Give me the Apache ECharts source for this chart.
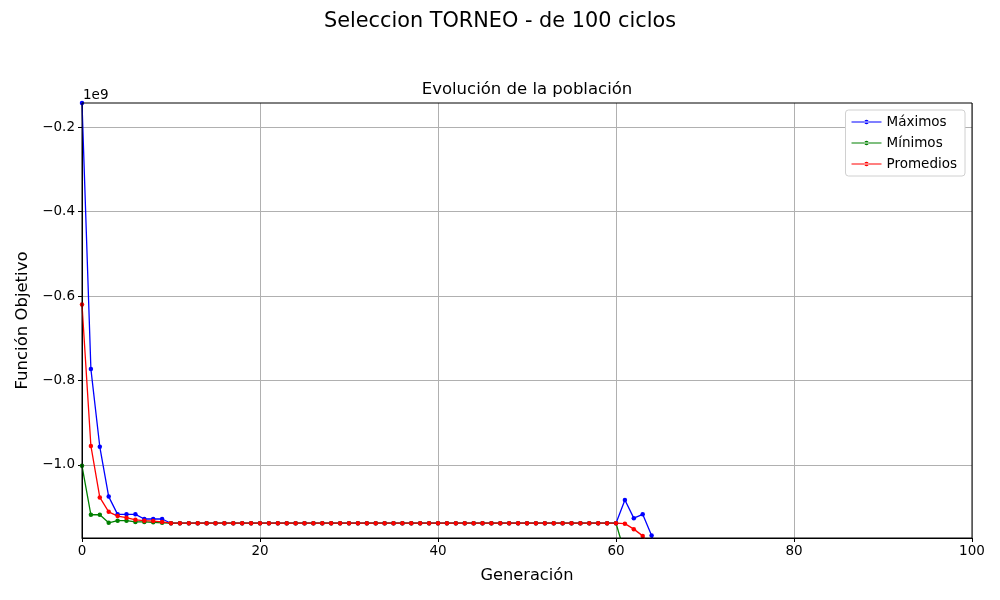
<!DOCTYPE html>
<html>
<head>
<meta charset="utf-8">
<script src="https://cdn.jsdelivr.net/npm/echarts@6/dist/echarts.min.js"></script>
<style>
html,body{margin:0;padding:0;background:#fff;}
#c{width:1000px;height:600px;}
</style>
</head>
<body>
<div id="c"></div>
<script>
// values in units of 1e9
var generations = [0,1,2,3,4,5,6,7,8,9,10,11,12,13,14,15,16,17,18,19,20,21,22,23,24,25,26,27,28,29,30,31,32,33,34,35,36,37,38,39,40,41,42,43,44,45,46,47,48,49,50,51,52,53,54,55,56,57,58,59,60,61,62,63,64,65];
var maximos = [-0.143,-0.773,-0.957,-1.075,-1.117,-1.117,-1.117,-1.128,-1.128,-1.128,
  -1.138,-1.138,-1.138,-1.138,-1.138,-1.138,-1.138,-1.138,-1.138,-1.138,
  -1.138,-1.138,-1.138,-1.138,-1.138,-1.138,-1.138,-1.138,-1.138,-1.138,
  -1.138,-1.138,-1.138,-1.138,-1.138,-1.138,-1.138,-1.138,-1.138,-1.138,
  -1.138,-1.138,-1.138,-1.138,-1.138,-1.138,-1.138,-1.138,-1.138,-1.138,
  -1.138,-1.138,-1.138,-1.138,-1.138,-1.138,-1.138,-1.138,-1.138,-1.138,
  -1.138,-1.083,-1.126,-1.117,-1.167,-1.25];
var minimos = [-1.002,-1.118,-1.118,-1.137,-1.132,-1.132,-1.135,-1.135,-1.136,-1.137,
  -1.138,-1.138,-1.138,-1.138,-1.138,-1.138,-1.138,-1.138,-1.138,-1.138,
  -1.138,-1.138,-1.138,-1.138,-1.138,-1.138,-1.138,-1.138,-1.138,-1.138,
  -1.138,-1.138,-1.138,-1.138,-1.138,-1.138,-1.138,-1.138,-1.138,-1.138,
  -1.138,-1.138,-1.138,-1.138,-1.138,-1.138,-1.138,-1.138,-1.138,-1.138,
  -1.138,-1.138,-1.138,-1.138,-1.138,-1.138,-1.138,-1.138,-1.138,-1.138,
  -1.138,-1.21];
var promedios = [-0.620,-0.955,-1.077,-1.111,-1.121,-1.125,-1.130,-1.132,-1.133,-1.135,
  -1.138,-1.138,-1.138,-1.138,-1.138,-1.138,-1.138,-1.138,-1.138,-1.138,
  -1.138,-1.138,-1.138,-1.138,-1.138,-1.138,-1.138,-1.138,-1.138,-1.138,
  -1.138,-1.138,-1.138,-1.138,-1.138,-1.138,-1.138,-1.138,-1.138,-1.138,
  -1.138,-1.138,-1.138,-1.138,-1.138,-1.138,-1.138,-1.138,-1.138,-1.138,
  -1.138,-1.138,-1.138,-1.138,-1.138,-1.138,-1.138,-1.138,-1.138,-1.138,
  -1.138,-1.139,-1.152,-1.168,-1.20];
var yTicks = [-1.0,-0.8,-0.6,-0.4,-0.2];
var xTicks = [0,20,40,60,80,100];

function pairs(vals){ return vals.map(function(v,i){ return [generations[i], v]; }); }
var FONT = 'DejaVu Sans';
var LEGEND_ICON = 'path://M0,2L30,2L30,3.2L0,3.2Z M12.8,2.6A2.2,2.2 0 1,0 17.2,2.6A2.2,2.2 0 1,0 12.8,2.6Z';
var chart = echarts.init(document.getElementById('c'));
function mk(name, color, vals){
  return {
    name: name, type: 'line', data: pairs(vals), clip: true,
    symbol: 'circle', symbolSize: 4.5, showSymbol: true,
    lineStyle: {color: color, width: 1.3},
    itemStyle: {color: color},
    emphasis: {disabled: true},
    animation: false
  };
}
chart.setOption({
  animation: false,
  backgroundColor: '#fff',
  textStyle: {fontFamily: FONT},
  legend: {
    orient: 'vertical', right: 35, top: 110,
    icon: LEGEND_ICON,
    itemWidth: 30, itemHeight: 5, itemGap: 5,
    padding: [4, 8, 4, 6],
    backgroundColor: '#fff', borderColor: '#d0d0d0', borderWidth: 1, borderRadius: 3,
    textStyle: {fontFamily: FONT, fontSize: 13.5, color: '#000', lineHeight: 16},
    data: ['Máximos', 'Mínimos', 'Promedios']
  },
  grid: {left: 82, right: 28, top: 103, bottom: 62, containLabel: false},
  xAxis: {
    type: 'value', min: 0, max: 100, interval: 20,
    name: 'Generación', nameLocation: 'middle', nameGap: 30,
    nameTextStyle: {fontFamily: FONT, fontSize: 16.2, color: '#000'},
    axisLine: {show: true, onZero: false, lineStyle: {color: '#000', width: 1}},
    axisTick: {show: true, inside: false, length: 4, lineStyle: {color: '#000'}},
    axisLabel: {color: '#000', fontSize: 13.5, fontFamily: FONT, margin: 6,
      customValues: xTicks},
    splitLine: {show: true, lineStyle: {color: '#b0b0b0', width: 1}}
  },
  yAxis: {
    type: 'value', min: -1.173, max: -0.143,
    name: 'Función Objetivo', nameLocation: 'middle', nameGap: 50,
    nameTextStyle: {fontFamily: FONT, fontSize: 16.5, color: '#000'},
    axisLine: {show: true, onZero: false, lineStyle: {color: '#000', width: 1}},
    axisTick: {show: true, inside: false, length: 4, lineStyle: {color: '#000'}, customValues: yTicks},
    axisLabel: {color: '#000', fontSize: 13.5, fontFamily: FONT, margin: 7, customValues: yTicks,
      formatter: function(v){ return v.toFixed(1).replace('-', '\u2212'); }},
    splitLine: {show: true, lineStyle: {color: '#b0b0b0', width: 1}}
  },
  graphic: [
    {type: 'text', x: 500, y: 22, style: {text: 'Seleccion TORNEO - de 100 ciclos', fontFamily: FONT, fontSize: 20.8, fill: '#000', align: 'center', verticalAlign: 'middle'}},
    {type: 'text', x: 527, y: 90, style: {text: 'Evolución de la población', fontFamily: FONT, fontSize: 16.5, fill: '#000', align: 'center', verticalAlign: 'middle'}},
    {type: 'text', x: 83, y: 95, style: {text: '1e9', fontFamily: FONT, fontSize: 13.5, fill: '#000', align: 'left', verticalAlign: 'middle'}},
    {type: 'rect', shape: {x: 82, y: 103, width: 890, height: 435}, style: {fill: 'none', stroke: '#000', lineWidth: 1}, z: 100, silent: true}
  ],
  series: [
    mk('Máximos', '#0000ff', maximos),
    mk('Mínimos', '#008000', minimos),
    mk('Promedios', '#ff0000', promedios)
  ]
});
</script>
</body>
</html>
